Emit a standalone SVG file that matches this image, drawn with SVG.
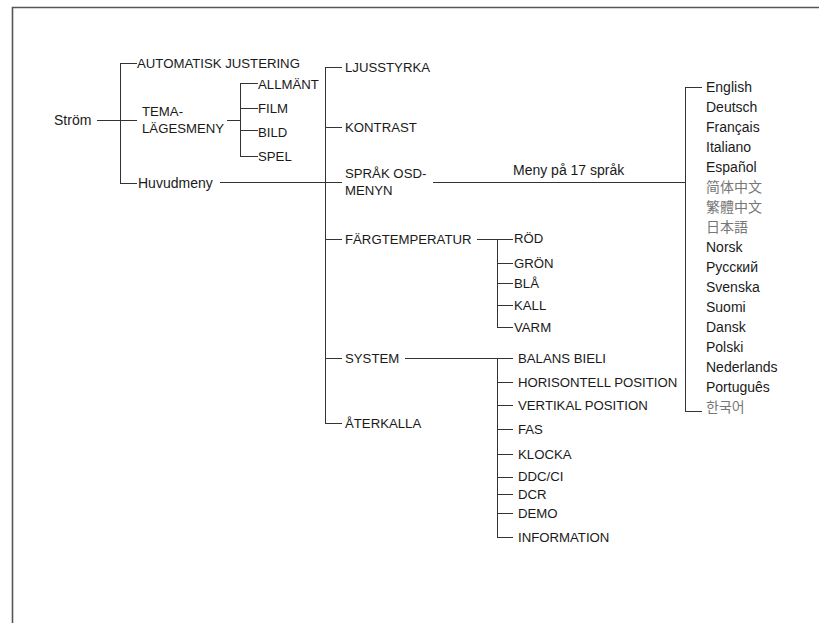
<svg xmlns="http://www.w3.org/2000/svg" width="819" height="623" viewBox="0 0 819 623">
<style>
text{font-family:"Liberation Sans",Arial,"Noto Sans CJK SC",sans-serif;font-size:13.2px;fill:#1a1a1a}
.mx{font-size:14px}
.cjk{font-family:"Noto Sans CJK SC","Noto Sans CJK KR",sans-serif;fill:#777;font-size:14px}
.kr{font-family:"Noto Sans CJK KR",sans-serif;fill:#777;font-size:14px}
.ln{stroke:#333;stroke-width:1;fill:none}
.frame{stroke:#555;stroke-width:1.6;fill:none}
</style>
<rect width="819" height="623" fill="#fff"/>
<path class="frame" d="M12.5,623 V7.5 H819"/>
<g id="connectors" class="ln">
<path d="M97,120.5 H137"/>
<path d="M120.5,63 V183 M120,63.5 H137 M120,183.5 H137"/>
<path d="M227,120.5 H240"/>
<path d="M240.5,83 V156 M240,83.5 H258 M240,108.5 H258 M240,130.5 H258 M240,156.5 H258"/>
<path d="M220,182.5 H342"/>
<path d="M325.5,67 V423 M325,67.5 H342 M325,127.5 H342 M325,239.5 H342 M325,358.5 H342 M325,423.5 H342"/>
<path d="M433,182.5 H685"/>
<path d="M685.5,87 V411 M685,87.5 H702 M685,411.5 H702"/>
<path d="M477,239.5 H513"/>
<path d="M497.5,239 V327 M497,263.5 H513 M497,283.5 H513 M497,305.5 H513 M497,327.5 H513"/>
<path d="M405,358.5 H513"/>
<path d="M497.5,358 V537 M497,382.5 H513 M497,405.5 H513 M497,429.5 H513 M497,454.5 H513 M497,477.5 H513 M497,494.5 H513 M497,513.5 H513 M497,537.5 H513"/>
</g>
<g id="n-strom"><text class="mx" x="54" y="125">Ström</text></g>
<g id="n-auto"><text x="137" y="68">AUTOMATISK JUSTERING</text></g>
<g id="n-tema"><text x="142" y="116">TEMA-</text><text x="142" y="133">LÄGESMENY</text></g>
<g id="n-allmant"><text x="258" y="89">ALLMÄNT</text></g>
<g id="n-film"><text x="258" y="113">FILM</text></g>
<g id="n-bild"><text x="258" y="137">BILD</text></g>
<g id="n-spel"><text x="258" y="161">SPEL</text></g>
<g id="n-huvud"><text class="mx" x="138" y="188">Huvudmeny</text></g>
<g id="n-ljus"><text x="345" y="72">LJUSSTYRKA</text></g>
<g id="n-kontrast"><text x="345" y="132">KONTRAST</text></g>
<g id="n-sprak"><text x="345" y="178">SPRÅK OSD-</text><text x="345" y="195">MENYN</text></g>
<g id="n-meny17"><text class="mx" x="513" y="175">Meny på 17 språk</text></g>
<g id="n-farg"><text x="345" y="244">FÄRGTEMPERATUR</text></g>
<g id="n-rod"><text x="514" y="243">RÖD</text></g>
<g id="n-gron"><text x="514" y="268">GRÖN</text></g>
<g id="n-bla"><text x="514" y="288">BLÅ</text></g>
<g id="n-kall"><text x="514" y="310">KALL</text></g>
<g id="n-varm"><text x="514" y="332">VARM</text></g>
<g id="n-system"><text x="345" y="363">SYSTEM</text></g>
<g id="n-ater"><text x="345" y="428">ÅTERKALLA</text></g>
<g id="n-balans"><text x="518" y="363">BALANS BIELI</text></g>
<g id="n-hor"><text x="518" y="387">HORISONTELL POSITION</text></g>
<g id="n-ver"><text x="518" y="410">VERTIKAL POSITION</text></g>
<g id="n-fas"><text x="518" y="434">FAS</text></g>
<g id="n-klocka"><text x="518" y="459">KLOCKA</text></g>
<g id="n-ddc"><text x="518" y="481">DDC/CI</text></g>
<g id="n-dcr"><text x="518" y="499">DCR</text></g>
<g id="n-demo"><text x="518" y="518">DEMO</text></g>
<g id="n-info"><text x="518" y="542">INFORMATION</text></g>
<g id="n-langs">
<text class="mx" x="706" y="92">English</text>
<text class="mx" x="706" y="112">Deutsch</text>
<text class="mx" x="706" y="132">Français</text>
<text class="mx" x="706" y="152">Italiano</text>
<text class="mx" x="706" y="172">Español</text>
<text class="cjk" x="706" y="192">简体中文</text>
<text class="cjk" x="706" y="212" style="font-family:'Noto Sans CJK TC',sans-serif">繁體中文</text>
<text class="cjk" x="706" y="232" style="font-family:'Noto Sans CJK JP',sans-serif">日本語</text>
<text class="mx" x="706" y="252">Norsk</text>
<text class="mx" x="706" y="272">Русский</text>
<text class="mx" x="706" y="292">Svenska</text>
<text class="mx" x="706" y="312">Suomi</text>
<text class="mx" x="706" y="332">Dansk</text>
<text class="mx" x="706" y="352">Polski</text>
<text class="mx" x="706" y="372">Nederlands</text>
<text class="mx" x="706" y="392">Português</text>
<text class="kr" x="706" y="412">한국어</text>
</g>
</svg>
